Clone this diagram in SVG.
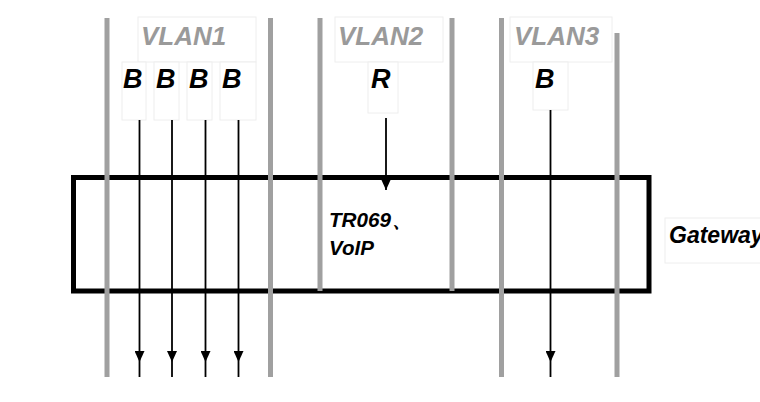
<svg xmlns="http://www.w3.org/2000/svg" width="760" height="402" viewBox="0 0 760 402">
<defs>
<style>
.g{stroke:#a0a0a0;stroke-width:5;fill:none}
.lbl{fill:#fff;stroke:#eeeeee;stroke-width:1}
.v{font-family:"Liberation Sans",Arial,sans-serif;font-weight:bold;font-style:italic;font-size:26px;fill:#9a9a9a}
.t{font-family:"Liberation Sans",Arial,sans-serif;font-weight:bold;font-style:italic;fill:#000}
.a{stroke:#000;stroke-width:1.8;fill:none}
</style>
<marker id="ah" markerUnits="userSpaceOnUse" markerWidth="11" markerHeight="10" refX="11" refY="5" orient="auto">
<path d="M0,0 L11,5 L0,10 z" fill="#000"/>
</marker>
</defs>
<rect width="760" height="402" fill="#fff"/>
<g id="gateway">
<rect x="73.5" y="177.5" width="575.5" height="113.5" fill="none" stroke="#000" stroke-width="5"/>
<text class="t" x="329" y="227" font-size="20.5" textLength="62" lengthAdjust="spacingAndGlyphs">TR069</text>
<text class="t" x="392" y="227" font-size="20.5">、</text>
<text class="t" x="329" y="255" font-size="20.5">VoIP</text>
</g>
<g id="gateway-label">
<rect class="lbl" x="665" y="218" width="100" height="45"/>
<text class="t" x="669" y="243" font-size="23">Gateway</text>
</g>
<g id="vlan-bounds">
<line class="g" x1="107" y1="18" x2="107" y2="377"/>
<line class="g" x1="270.5" y1="18" x2="270.5" y2="377"/>
<line class="g" x1="320" y1="18" x2="320" y2="291"/>
<line class="g" x1="452" y1="18" x2="452" y2="291"/>
<line class="g" x1="501.5" y1="18" x2="501.5" y2="377"/>
<line class="g" x1="617" y1="33" x2="617" y2="377"/>
</g>
<g id="vlan1">
<rect class="lbl" x="138" y="17" width="118" height="45"/>
<text class="v" x="141" y="45">VLAN1</text>
<rect class="lbl" x="122" y="62" width="24" height="58"/>
<rect class="lbl" x="154" y="62" width="25" height="58"/>
<rect class="lbl" x="187" y="62" width="25" height="58"/>
<rect class="lbl" x="220" y="62" width="36" height="58"/>
<text class="t" x="123" y="88" font-size="27">B</text>
<text class="t" x="156" y="88" font-size="27">B</text>
<text class="t" x="189" y="88" font-size="27">B</text>
<text class="t" x="222" y="88" font-size="27">B</text>
</g>
<g id="vlan2">
<rect class="lbl" x="335" y="17" width="108" height="45"/>
<text class="v" x="338" y="45">VLAN2</text>
<rect class="lbl" x="368" y="62" width="30" height="51"/>
<text class="t" x="371" y="88" font-size="27">R</text>
</g>
<g id="vlan3">
<rect class="lbl" x="510" y="17" width="102" height="45"/>
<text class="v" x="514" y="45">VLAN3</text>
<rect class="lbl" x="533" y="62" width="35" height="48"/>
<text class="t" x="535" y="88" font-size="27">B</text>
</g>
<g id="connectors">
<path class="a" d="M139.5,120 L139.5,362 L139.5,377" marker-mid="url(#ah)"/>
<path class="a" d="M172,120 L172,362 L172,377" marker-mid="url(#ah)"/>
<path class="a" d="M205.5,120 L205.5,362 L205.5,377" marker-mid="url(#ah)"/>
<path class="a" d="M238.5,120 L238.5,362 L238.5,377" marker-mid="url(#ah)"/>
<path class="a" d="M550.5,110 L550.5,362 L550.5,377" marker-mid="url(#ah)"/>
<path class="a" d="M386,118 L386,190" marker-end="url(#ah)"/>
</g>
</svg>
